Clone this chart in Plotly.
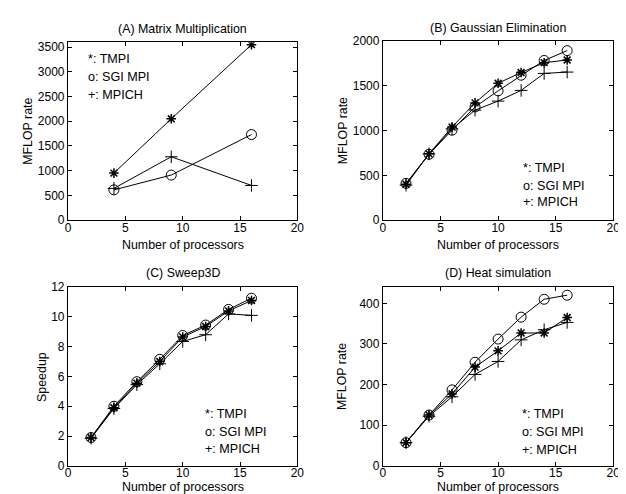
import plotly.graph_objects as go

# ---------------- data ----------------
procs_a = [4, 9, 16]
a_tmpi = [950, 2050, 3550]
a_sgi = [610, 910, 1730]
a_mpich = [640, 1280, 700]

procs = [2, 4, 6, 8, 10, 12, 14, 16]
b_tmpi = [400, 740, 1040, 1310, 1530, 1650, 1760, 1790]
b_sgi = [410, 735, 1005, 1265, 1445, 1620, 1785, 1895]
b_mpich = [390, 740, 1020, 1230, 1330, 1450, 1640, 1655]

c_tmpi = [1.9, 3.9, 5.55, 7.0, 8.65, 9.35, 10.4, 11.1]
c_sgi = [1.9, 4.0, 5.65, 7.15, 8.75, 9.45, 10.5, 11.25]
c_mpich = [1.85, 3.85, 5.45, 6.85, 8.35, 8.8, 10.2, 10.1]

d_tmpi = [57, 125, 177, 243, 283, 327, 327, 365]
d_sgi = [57, 125, 187, 255, 312, 366, 410, 420]
d_mpich = [57, 122, 170, 225, 257, 310, 335, 353]

titles = ["(A) Matrix Multiplication", "(B) Gaussian Elimination", "(C) Sweep3D", "(D) Heat simulation"]
ytitles = ["MFLOP rate", "MFLOP rate", "Speedup", "MFLOP rate"]
legend_lines = ["*: TMPI", "o: SGI MPI", "+: MPICH"]
yranges = [[0, 3600], [0, 2000], [0, 12], [0, 440]]
ydticks = [500, 500, 2, 100]
legend_pos = [(1.6, [3250, 2900, 2530]), (12.0, [587, 380, 196]), (11.8, [3.5, 2.27, 1.1]), (11.9, [128, 83, 40])]

W, H = 626, 494
FONT = "Liberation Sans, Arial, sans-serif"

# panel geometry in pixels: (left, right, top, bottom)
boxes = [(58, 291, 28, 211), (378, 612, 27, 211), (58, 291, 280, 464), (378, 612, 280, 464)]

fig = go.Figure()

panels = [
    (procs_a, a_tmpi, a_sgi, a_mpich),
    (procs, b_tmpi, b_sgi, b_mpich),
    (procs, c_tmpi, c_sgi, c_mpich),
    (procs, d_tmpi, d_sgi, d_mpich),
]

line = dict(color="black", width=1)
for i, (xs, t, s, m) in enumerate(panels):
    xa = "x" if i == 0 else f"x{i+1}"
    ya = "y" if i == 0 else f"y{i+1}"
    fig.add_trace(go.Scatter(x=xs, y=m, mode="lines+markers", line=line,
                             marker=dict(symbol="cross-thin-open", size=9, line=dict(color="black", width=1)),
                             xaxis=xa, yaxis=ya, showlegend=False))
    fig.add_trace(go.Scatter(x=xs, y=s, mode="lines+markers", line=line,
                             marker=dict(symbol="circle-open", size=10, color="black", line=dict(color="black", width=1)),
                             xaxis=xa, yaxis=ya, showlegend=False))
    fig.add_trace(go.Scatter(x=xs, y=t, mode="lines+markers", line=line,
                             marker=dict(symbol="asterisk-open", size=8, line=dict(color="black", width=1.5)),
                             xaxis=xa, yaxis=ya, showlegend=False))

layout = dict(width=W, height=H, margin=dict(l=0, r=0, t=0, b=0),
              paper_bgcolor="white", plot_bgcolor="white",
              font=dict(family=FONT, size=12, color="black"))

annotations = []
for i, (l, r, t, b) in enumerate(boxes):
    sfx = "" if i == 0 else str(i + 1)
    xd = [l / W, r / W]
    yd = [(H - b) / H, (H - t) / H]
    common = dict(showline=True, linecolor="black", linewidth=1.3, mirror="ticks",
                  ticks="inside", ticklen=4, tickcolor="black", tickwidth=1,
                  showgrid=False, zeroline=False, tickfont=dict(family=FONT, size=12, color="black"))
    layout["xaxis" + sfx] = dict(domain=xd, range=[0, 20], tick0=0, dtick=5,
                                 anchor="y" + sfx, ticklabelstandoff=-4, **common)
    layout["yaxis" + sfx] = dict(domain=yd, range=yranges[i], tick0=0, dtick=ydticks[i],
                                 anchor="x" + sfx, **common)
    # subplot title
    annotations.append(dict(text=titles[i], xref="paper", yref="paper",
                            x=(l + r) / 2 / W, y=(H - (t - 14)) / H, showarrow=False,
                            xanchor="center", yanchor="middle", font=dict(size=12.4)))
    # x title
    xt_y = b + 26 if i < 2 else b + 22
    annotations.append(dict(text="Number of processors", xref="paper", yref="paper",
                            x=(l + r) / 2 / W, y=(H - xt_y) / H, showarrow=False,
                            xanchor="center", yanchor="middle", font=dict(size=12.4)))
    # y title
    annotations.append(dict(text=ytitles[i], xref="paper", yref="paper",
                            x=(l - 41 if i != 2 else l - 26) / W, y=(H - (t + b) / 2) / H,
                            showarrow=False, textangle=-90,
                            xanchor="center", yanchor="middle", font=dict(size=12.4)))
    lx, lys = legend_pos[i]
    for txt, ly in zip(legend_lines, lys):
        annotations.append(dict(text=txt, xref="x" + sfx, yref="y" + sfx, x=lx, y=ly,
                                showarrow=False, xanchor="left", yanchor="middle",
                                font=dict(size=12.6)))

layout["annotations"] = annotations
fig.update_layout(**layout)
fig.write_html("out.html")
